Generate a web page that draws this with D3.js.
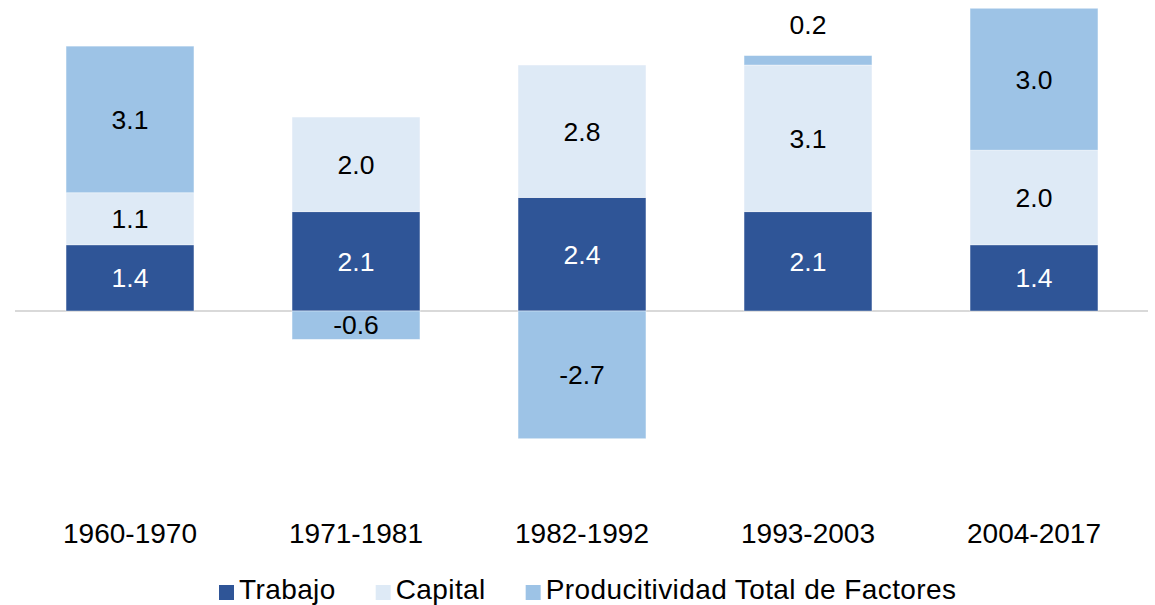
<!DOCTYPE html>
<html>
<head>
<meta charset="utf-8">
<script src="https://cdn.jsdelivr.net/npm/d3@7"></script>
<style>
  html, body { margin: 0; padding: 0; background: #fff; }
  svg { display: block; font-family: "Liberation Sans", Arial, sans-serif; }
</style>
</head>
<body>
<svg id="chart" width="1155" height="605"></svg>
<script>
const categories = ["1960-1970", "1971-1981", "1982-1992", "1993-2003", "2004-2017"];
const seriesNames = ["Trabajo", "Capital", "Producitividad Total de Factores"];
const trabajo = [1.4, 2.1, 2.4, 2.1, 1.4];
const capital = [1.1, 2.0, 2.8, 3.1, 2.0];
const ptf = [3.1, -0.6, -2.7, 0.2, 3.0];
const colors = ["#2F5597", "#DEEAF6", "#9DC3E6"];
const labelColors = ["#ffffff", "#000000", "#000000"];

const keys = ["trabajo", "capital", "ptf"];
const rows = categories.map((c, i) => ({ cat: c, trabajo: trabajo[i], capital: capital[i], ptf: ptf[i] }));

const svg = d3.select("#chart");

const x = d3.scaleBand().domain(categories).range([17, 1147]).paddingInner(0.434).paddingOuter(0.217);
const y = d3.scaleLinear().domain([-4, 6.5]).range([500.2, 3.55]);

const stacked = d3.stack().keys(keys).offset(d3.stackOffsetDiverging)(rows);

// zero line
svg.append("line")
  .attr("x1", x.range()[0] - 2).attr("x2", x.range()[1] + 1)
  .attr("y1", y(0)).attr("y2", y(0))
  .attr("stroke", "#D9D9D9").attr("stroke-width", 2);

const layers = svg.selectAll("g.layer").data(stacked).join("g")
  .attr("class", "layer")
  .attr("fill", (d, i) => colors[i]);

layers.selectAll("rect").data(d => d).join("rect")
  .attr("x", d => x(d.data.cat))
  .attr("width", x.bandwidth())
  .attr("y", d => y(Math.max(d[0], d[1])))
  .attr("height", d => Math.abs(y(d[0]) - y(d[1])))
  .attr("stroke", "#ffffff").attr("stroke-opacity", 0.5).attr("stroke-width", 0.8);

// value labels
stacked.forEach((layer, li) => {
  layer.forEach(d => {
    const v = d.data[keys[li]];
    const top = y(Math.max(d[0], d[1]));
    const bot = y(Math.min(d[0], d[1]));
    const h = bot - top;
    let cy, col;
    if (h < 25) { cy = top - 31; col = "#000"; }
    else { cy = (top + bot) / 2; col = labelColors[li]; }
    svg.append("text")
      .attr("x", x(d.data.cat) + x.bandwidth() / 2)
      .attr("y", cy)
      .attr("dy", "0.35em")
      .attr("text-anchor", "middle")
      .attr("font-size", 26.5)
      .attr("fill", col)
      .text(d3.format(".1f")(v).replace("−", "-"));
  });
});

// category axis
const xAxis = svg.append("g").attr("transform", "translate(0,520)")
  .call(d3.axisBottom(x).tickSize(0).tickPadding(0));
xAxis.select(".domain").remove();
xAxis.selectAll("text")
  .attr("y", 23).attr("dy", null)
  .attr("font-size", 28)
  .attr("font-family", "Liberation Sans, Arial, sans-serif")
  .attr("fill", "#000");

// legend
const legend = svg.append("g").attr("transform", "translate(219,599)");
let lx = 0;
seriesNames.forEach((name, i) => {
  const g = legend.append("g").attr("transform", `translate(${lx},0)`);
  g.append("rect").attr("x", 0).attr("y", -14).attr("width", 15).attr("height", 15).attr("fill", colors[i]);
  const t = g.append("text").attr("x", 20).attr("y", 0).attr("font-size", 28)
    .attr("letter-spacing", 0.4).attr("fill", "#000").text(name);
  lx += 20 + t.node().getComputedTextLength() + 40;
});
</script>
</body>
</html>
